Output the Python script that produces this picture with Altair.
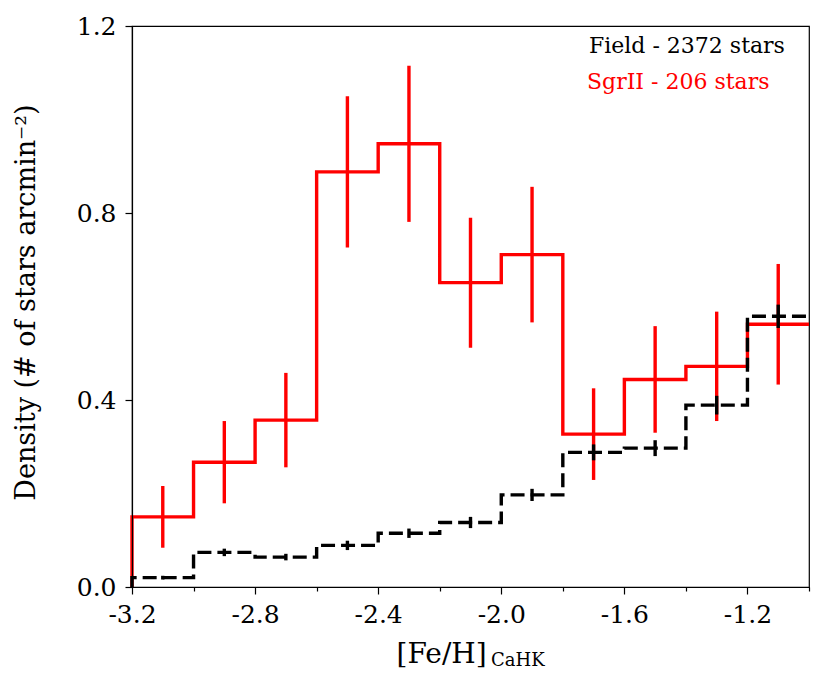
import altair as alt
import pandas as pd

# bin edges of [Fe/H]_CaHK (width 0.2)
left_edges = [-3.2, -3.0, -2.8, -2.6, -2.4, -2.2, -2.0, -1.8, -1.6, -1.4, -1.2]
right_end = -1.0

# SgrII density and errors
sgr_vals = [0.150, 0.267, 0.357, 0.888, 0.948, 0.651, 0.711, 0.327, 0.444, 0.472, 0.562]
sgr_errs = [0.066, 0.088, 0.101, 0.162, 0.167, 0.139, 0.145, 0.098, 0.114, 0.117, 0.129]

# Field density and errors
field_vals = [0.020, 0.074, 0.064, 0.089, 0.115, 0.138, 0.197, 0.288, 0.297, 0.389, 0.579]
field_errs = [0.004, 0.008, 0.007, 0.010, 0.010, 0.012, 0.013, 0.017, 0.017, 0.020, 0.025]

# tick positions (major every 0.4, minor every 0.1)
x_ticks = [-3.2, -3.1, -3.0, -2.9, -2.8, -2.7, -2.6, -2.5, -2.4, -2.3, -2.2, -2.1,
           -2.0, -1.9, -1.8, -1.7, -1.6, -1.5, -1.4, -1.3, -1.2, -1.1, -1.0]
y_ticks = [0.0, 0.4, 0.8, 1.2]

SERIF = "DejaVu Serif"


def edge_pairs(vals):
    # step outline through the bin edges (each edge repeated to make the step)
    xs, ys = [left_edges[0]], [0.0]
    rights = left_edges[1:] + [right_end]
    for l, r, v in zip(left_edges, rights, vals):
        xs += [l, r]
        ys += [v, v]
    return pd.DataFrame({"x": xs, "y": ys, "o": list(range(len(xs)))})


def err_frame(vals, errs):
    centers = [round(e + 0.1, 2) for e in left_edges]
    return pd.DataFrame({
        "x": centers,
        "lo": [v - e for v, e in zip(vals, errs)],
        "hi": [v + e for v, e in zip(vals, errs)],
    })


xscale = alt.Scale(domain=[-3.2, -1.0], nice=False, zero=False)
yscale = alt.Scale(domain=[0, 1.2], nice=False, zero=True)

is_major = "round(datum.value * 10) % 4 == 0 && datum.value < -1.1"
x_label_expr = ("(" + is_major + ") ? replace(format(datum.value, '.1f'), '\u2212', '-') : ''")
y_label_expr = "replace(format(datum.value, '.1f'), '\u2212', '-')"

x_axis = alt.Axis(values=x_ticks, labelExpr=x_label_expr, title="[Fe/H]",
                  titleFont=SERIF, titleFontSize=28, titleFontWeight="normal",
                  titleColor="black", titleAlign="left", titleBaseline="alphabetic",
                  titleX=264, titleY=75, labelFont=SERIF, labelFontSize=25,
                  labelColor="black",
                  tickSize=alt.ConditionalAxisNumber(condition={"test": is_major, "value": 7}, value=4),
                  tickWidth=1.2, tickColor="black",
                  domainColor="black", domainWidth=1.2, labelPadding=8,
                  grid=False, zindex=1, labelFlush=False, labelOverlap=False,
                  labelBound=False, orient="bottom")

y_axis = alt.Axis(values=y_ticks, labelExpr=y_label_expr,
                  title="Density (# of stars arcmin\u207b\u00b2)",
                  titleFont=SERIF, titleFontSize=27, titleFontWeight="normal",
                  titleColor="black", titleAngle=270, titleAlign="center",
                  titleBaseline="alphabetic", titleX=-98, titleY=276,
                  labelFont=SERIF, labelFontSize=25, labelColor="black",
                  tickSize=7, tickWidth=1.2, tickColor="black",
                  domainColor="black", domainWidth=1.2, labelPadding=9,
                  grid=False, zindex=1, labelFlush=False, labelOverlap=False)

sgr_step = alt.Chart(edge_pairs(sgr_vals)).mark_line(
    color="red", strokeWidth=3.4, interpolate="linear", strokeJoin="miter"
).encode(
    x=alt.X("x:Q", scale=xscale, axis=x_axis),
    y=alt.Y("y:Q", scale=yscale, axis=y_axis),
    order="o:Q",
)

sgr_err = alt.Chart(err_frame(sgr_vals, sgr_errs)).mark_rule(
    color="red", strokeWidth=3.4
).encode(
    x=alt.X("x:Q", scale=xscale),
    y=alt.Y("lo:Q", scale=yscale),
    y2="hi:Q",
)

field_step = alt.Chart(edge_pairs(field_vals)).mark_line(
    color="black", strokeWidth=3.4, strokeDash=[14, 6], interpolate="linear"
).encode(
    x=alt.X("x:Q", scale=xscale),
    y=alt.Y("y:Q", scale=yscale),
    order="o:Q",
)

field_err = alt.Chart(err_frame(field_vals, field_errs)).mark_rule(
    color="black", strokeWidth=3.4
).encode(
    x=alt.X("x:Q", scale=xscale),
    y=alt.Y("lo:Q", scale=yscale),
    y2="hi:Q",
)

leg1 = alt.Chart(pd.DataFrame({"t": ["Field - 2372 stars"]})).mark_text(
    font=SERIF, fontSize=22, color="black", align="left", baseline="alphabetic"
).encode(x=alt.value(457), y=alt.value(27), text="t:N")
leg2 = alt.Chart(pd.DataFrame({"t": ["SgrII - 206 stars"]})).mark_text(
    font=SERIF, fontSize=22, color="red", align="left", baseline="alphabetic"
).encode(x=alt.value(455), y=alt.value(63), text="t:N")

sub = alt.Chart(pd.DataFrame({"t": ["CaHK"]})).mark_text(
    font=SERIF, fontSize=18, color="black", align="left", baseline="alphabetic"
).encode(x=alt.value(359), y=alt.value(640), text="t:N")

chart = alt.layer(
    sgr_step, sgr_err, field_step, field_err, leg1, leg2, sub
).properties(
    width=677, height=561,
    autosize=alt.AutoSizeParams(type="none"),
    padding={"left": 124, "top": 18, "right": 14, "bottom": 88},
    background="white",
).configure_view(stroke="black", strokeWidth=1.2)

chart.save("out.html", embed_options={"renderer": "svg", "actions": False})
